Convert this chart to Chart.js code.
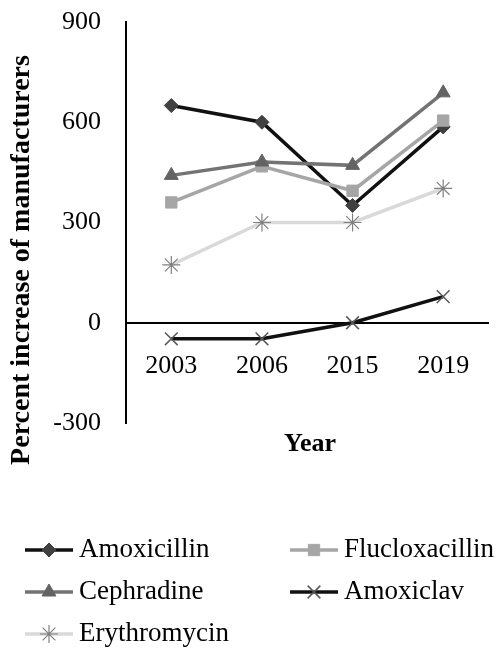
<!DOCTYPE html>
<html>
<head>
<meta charset="utf-8">
<script src="https://cdn.jsdelivr.net/npm/chart.js@4/dist/chart.umd.min.js"></script>
<style>
  html, body { margin: 0; padding: 0; background: #fff; }
  #wrap { width: 499px; height: 653px; position: relative; }
</style>
</head>
<body>
<div id="wrap"><canvas id="chart" width="499" height="653"></canvas></div>
<script>
// Years on the category axis
const years = ['2003', '2006', '2015', '2019'];

// Percent increase of manufacturers per antibiotic
const amoxicillin    = [650, 600, 351, 586];
const flucloxacillin = [360, 468, 395, 605];
const cephradine     = [441, 481, 471, 688];
const amoxiclav      = [-48, -48, 0, 78];
const erythromycin   = [173, 300, 300, 402];

// Value axis ticks
const yTicks = [-300, 0, 300, 600, 900];

const FONT = "'Liberation Serif', 'Times New Roman', serif";

function series(label, data, line, marker, style, radius, bw, order) {
  return {
    label, data,
    borderColor: line, borderWidth: 3.5,
    pointStyle: style, pointRadius: radius, pointHoverRadius: radius,
    pointBackgroundColor: marker, pointBorderColor: marker, pointBorderWidth: bw,
    tension: 0, fill: false, order
  };
}

const datasets = [
  series('Amoxicillin',    amoxicillin,    '#111111', '#404040', 'rectRot', 7, 1, 4),
  series('Flucloxacillin', flucloxacillin, '#a6a6a6', '#a6a6a6', 'rect',    8, 1, 3),
  series('Cephradine',     cephradine,     '#737373', '#636363', 'triangle',8, 1, 2),
  series('Amoxiclav',      amoxiclav,      '#111111', '#595959', 'crossRot',9, 1.5, 1),
  series('Erythromycin',   erythromycin,   '#d9d9d9', '#808080', 'star',    9, 1.2, 0)
];

// Axis titles and a two-column legend under the plot
const extras = {
  id: 'extras',
  afterDraw(chart) {
    const ctx = chart.ctx;
    ctx.save();
    ctx.fillStyle = '#000';
    ctx.textBaseline = 'middle';

    // vertical axis title
    ctx.font = 'bold 28px ' + FONT;
    ctx.save();
    ctx.translate(22, 260);
    ctx.rotate(-Math.PI / 2);
    ctx.textAlign = 'center';
    ctx.fillText('Percent increase of manufacturers', 0, 0);
    ctx.restore();

    // horizontal axis title
    ctx.font = 'bold 26px ' + FONT;
    ctx.textAlign = 'center';
    ctx.fillText('Year', 310, 444);

    // legend
    const cols = [25, 290];
    const rows = [550, 592, 634];
    ctx.font = '27px ' + FONT;
    ctx.textAlign = 'left';
    chart.data.datasets.forEach((ds, k) => {
      const x0 = cols[k % 2];
      const y = rows[Math.floor(k / 2)];
      ctx.strokeStyle = ds.borderColor;
      ctx.lineWidth = ds.borderWidth;
      ctx.beginPath();
      ctx.moveTo(x0, y);
      ctx.lineTo(x0 + 48, y);
      ctx.stroke();
      ctx.fillStyle = ds.pointBackgroundColor;
      ctx.strokeStyle = ds.pointBorderColor;
      ctx.lineWidth = ds.pointBorderWidth;
      Chart.helpers.drawPoint(ctx, {
        pointStyle: ds.pointStyle,
        radius: ds.pointRadius,
        borderWidth: ds.pointBorderWidth,
        rotation: 0
      }, x0 + 24, y);
      ctx.fillStyle = '#000';
      ctx.fillText(ds.label, x0 + 54, y);
    });
    ctx.restore();
  }
};

new Chart(document.getElementById('chart'), {
  type: 'line',
  data: { labels: years, datasets },
  plugins: [extras],
  options: {
    responsive: false,
    animation: false,
    events: [],
    layout: { padding: { left: 1, right: 5, top: 22, bottom: 230 } },
    plugins: { legend: { display: false }, tooltip: { enabled: false } },
    scales: {
      x: {
        position: { y: 0 },
        offset: true,
        afterFit(scale) {
          scale.height = 0;
          scale.paddingLeft = 0;
          scale.paddingRight = 0;
        },
        grid: { display: false, drawTicks: false },
        border: { display: true, color: '#000', width: 2 },
        ticks: {
          color: '#000',
          font: { family: FONT, size: 26 },
          padding: 28,
          maxRotation: 0
        }
      },
      y: {
        min: -300, max: 900,
        afterFit(scale) {
          scale.width = 125;
          scale.paddingTop = 0;
          scale.paddingBottom = 0;
        },
        afterBuildTicks(scale) { scale.ticks = yTicks.map(v => ({ value: v })); },
        grid: { display: false, drawTicks: false },
        border: { display: true, color: '#000', width: 2 },
        ticks: {
          color: '#000',
          font: { family: FONT, size: 26 },
          padding: 25
        }
      }
    }
  }
});
</script>
</body>
</html>
